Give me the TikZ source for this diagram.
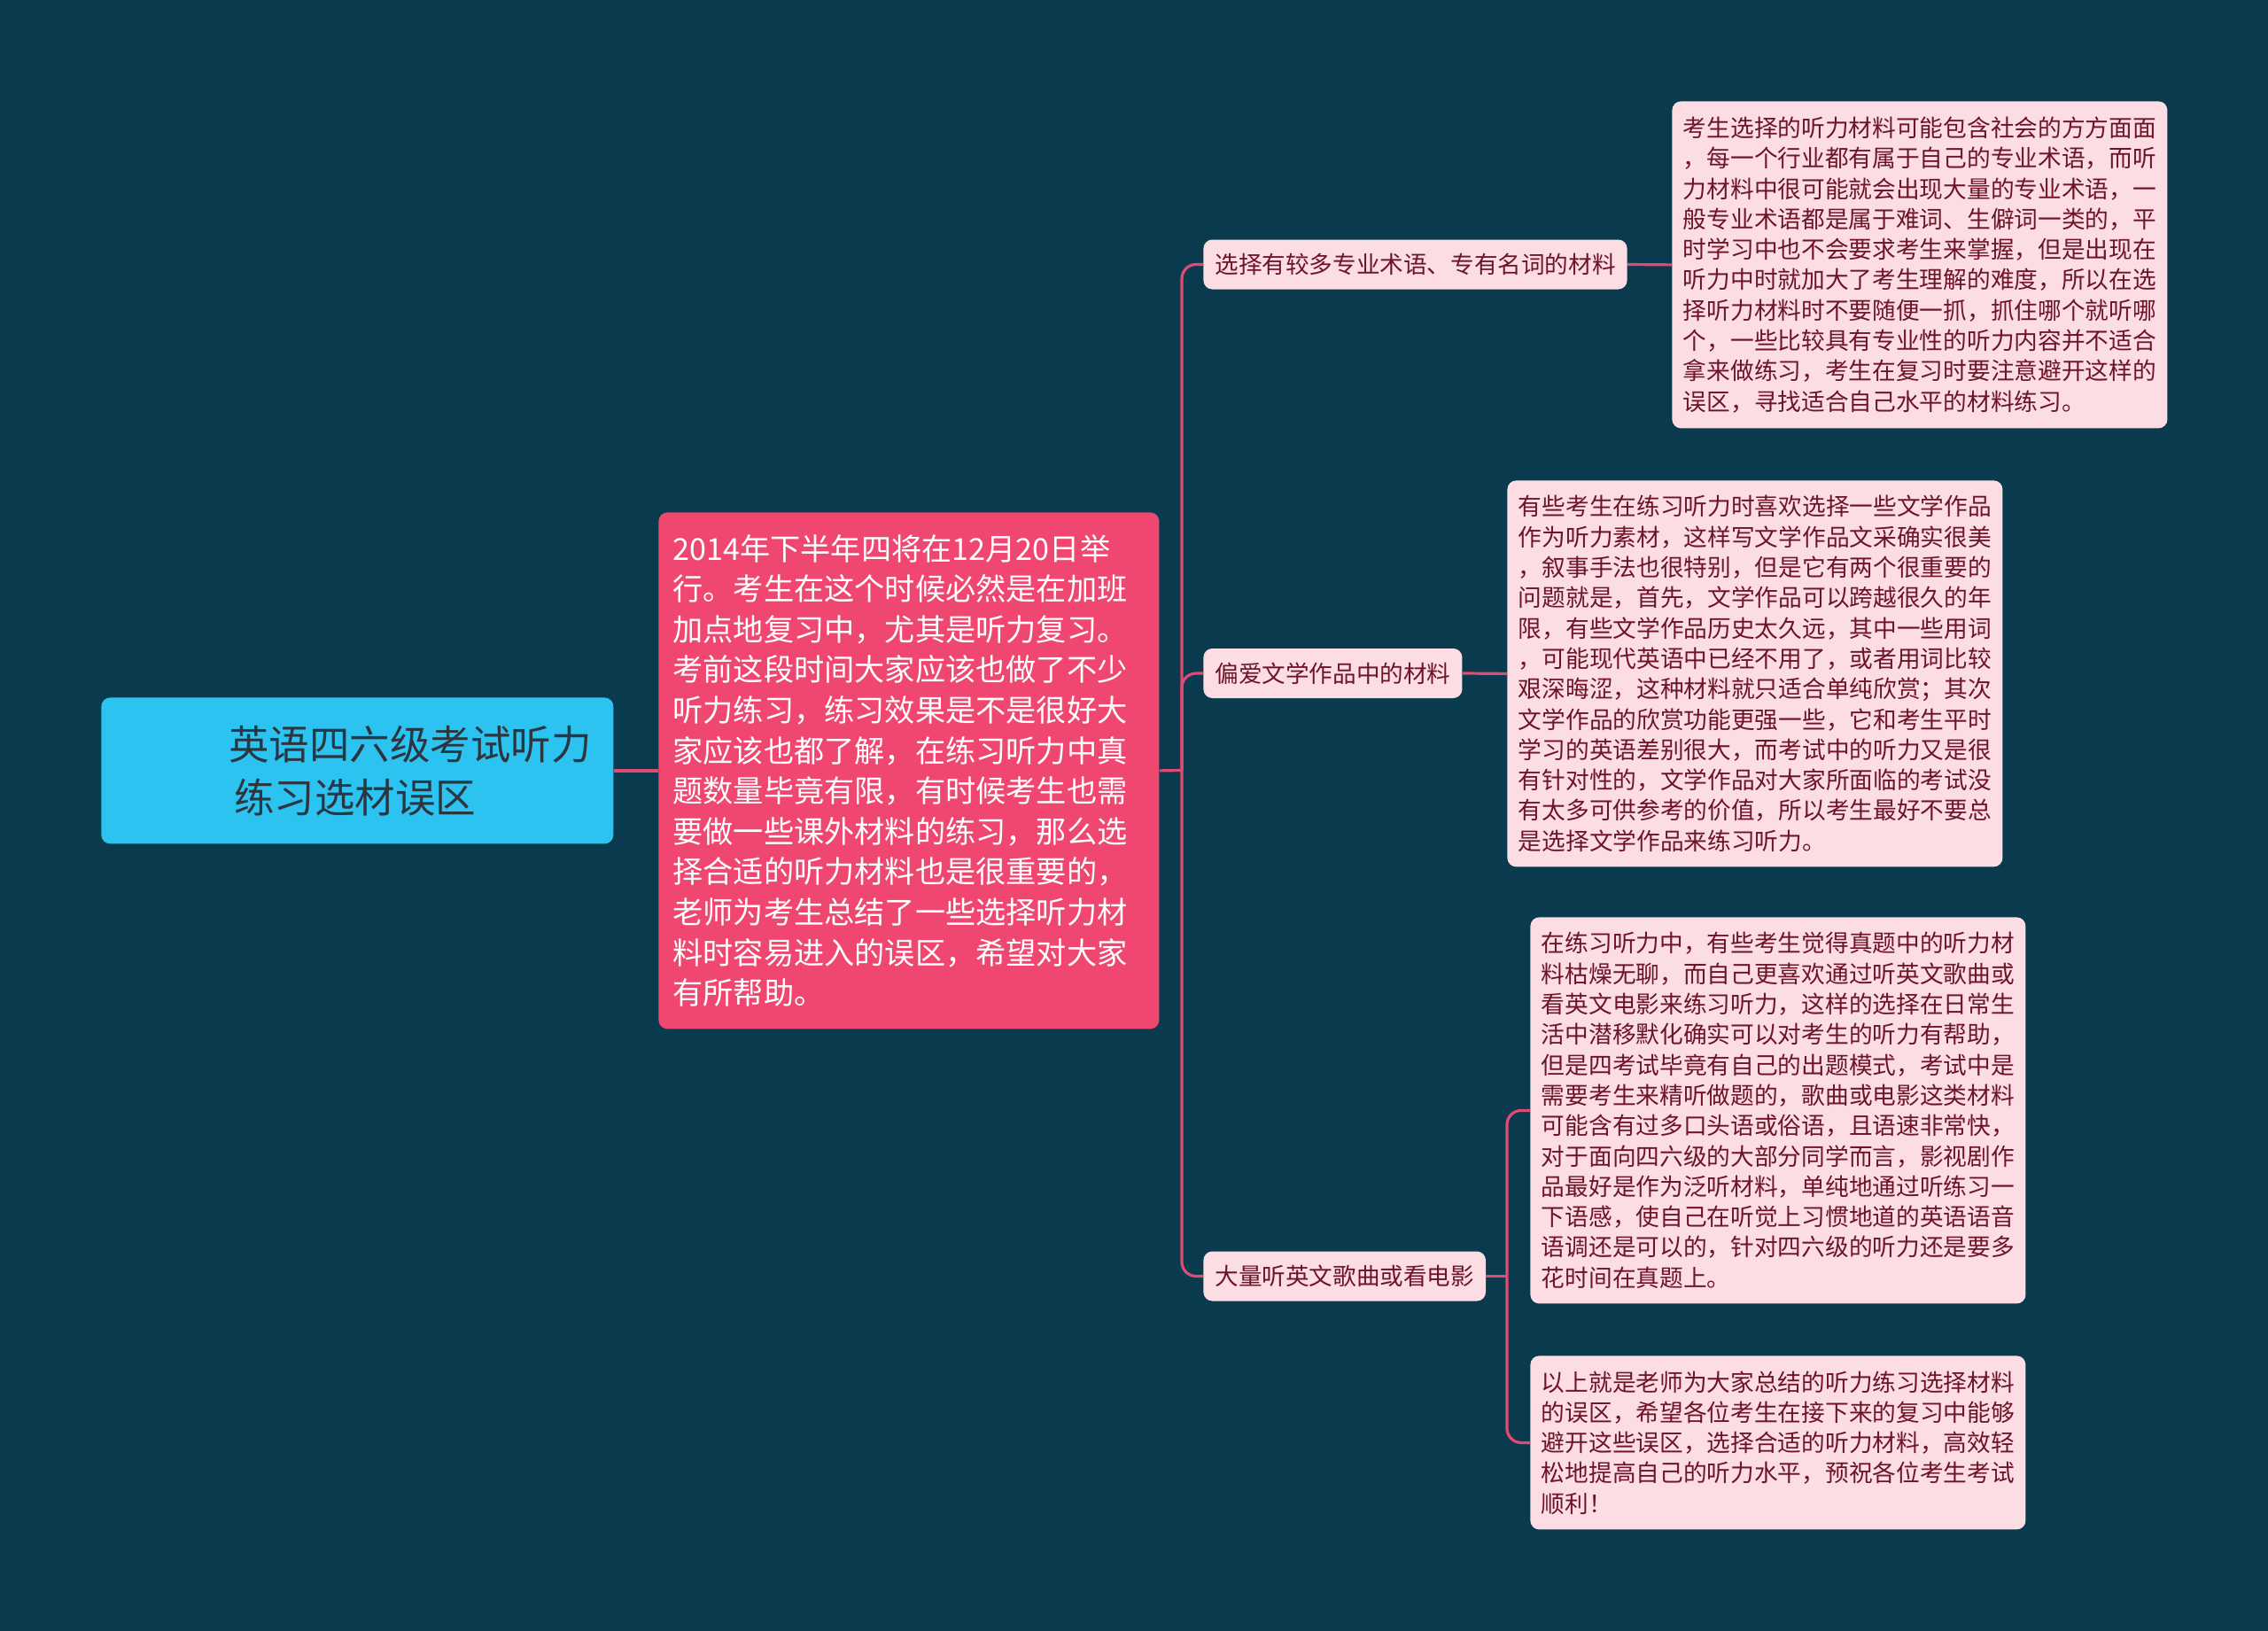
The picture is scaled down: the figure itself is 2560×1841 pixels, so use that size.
\documentclass[tikz,border=0pt]{standalone}
\usepackage{fontspec}
\setmainfont{Noto Sans CJK SC}
\definecolor{bgcol}{HTML}{0A3A4E}
\definecolor{rootfill}{HTML}{2DC3F1}
\definecolor{roottext}{HTML}{2A3640}
\definecolor{mainfill}{HTML}{EF476F}
\definecolor{leaffill}{HTML}{FCDDE3}
\definecolor{leaftext}{HTML}{6E1429}
\definecolor{linecol}{HTML}{E04A73}
\begin{document}
\begin{tikzpicture}[x=0.5pt,y=-0.5pt,
  rootbox/.style={fill=rootfill,rounded corners=5pt,text=roottext,font=\fontsize{22.75pt}{30pt}\selectfont,align=left,inner xsep=0pt,inner ysep=0pt,text width=289pt,minimum height=82.5pt,anchor=north west},
  mainbox/.style={fill=mainfill,rounded corners=5pt,text=white,font=\fontsize{17.1pt}{22.8pt}\selectfont,align=left,inner xsep=8pt,inner ysep=0pt,text width=266.5pt,minimum width=282.5pt,minimum height=291.5pt,anchor=north west},
  branchbox/.style={fill=leaffill,rounded corners=5pt,text=leaftext,font=\fontsize{13.3pt}{16pt}\selectfont,inner xsep=6.5pt,inner ysep=0pt,minimum height=28pt,anchor=west},
  leafbox/.style={fill=leaffill,rounded corners=5pt,text=leaftext,font=\fontsize{13.35pt}{17.15pt}\selectfont,align=left,inner xsep=6pt,inner ysep=0pt,minimum width=279.5pt,anchor=north west},
  conn/.style={draw=linecol,line width=1.6pt,rounded corners=8pt}
]
\fill[bgcol] (0,0) rectangle (2560,1841);
\useasboundingbox (0,0) rectangle (2560,1841);

\node[rootbox] (root) at (114,787) {\hspace*{72pt}英语四六级考试听力\\\hspace*{75pt}练习选材误区};

\node[mainbox] (main) at (743,578) {2014年下半年四将在12月20日举\\
行。考生在这个时候必然是在加班\\
加点地复习中，尤其是听力复习。\\
考前这段时间大家应该也做了不少\\
听力练习，练习效果是不是很好大\\
家应该也都了解，在练习听力中真\\
题数量毕竟有限，有时候考生也需\\
要做一些课外材料的练习，那么选\\
择合适的听力材料也是很重要的，\\
老师为考生总结了一些选择听力材\\
料时容易进入的误区，希望对大家\\
有所帮助。};

\node[branchbox] (b1) at (1358,298.5) {选择有较多专业术语、专有名词的材料};
\node[branchbox] (b2) at (1358,760) {偏爱文学作品中的材料};
\node[branchbox] (b3) at (1358,1440.5) {大量听英文歌曲或看电影};

\node[leafbox,minimum height=184.5pt] (la) at (1887,114) {考生选择的听力材料可能包含社会的方方面面\\
，每一个行业都有属于自己的专业术语，而听\\
力材料中很可能就会出现大量的专业术语，一\\
般专业术语都是属于难词、生僻词一类的，平\\
时学习中也不会要求考生来掌握，但是出现在\\
听力中时就加大了考生理解的难度，所以在选\\
择听力材料时不要随便一抓，抓住哪个就听哪\\
个，一些比较具有专业性的听力内容并不适合\\
拿来做练习，考生在复习时要注意避开这样的\\
误区，寻找适合自己水平的材料练习。};

\node[leafbox,minimum height=218pt] (lb) at (1701,542) {有些考生在练习听力时喜欢选择一些文学作品\\
作为听力素材，这样写文学作品文采确实很美\\
，叙事手法也很特别，但是它有两个很重要的\\
问题就是，首先，文学作品可以跨越很久的年\\
限，有些文学作品历史太久远，其中一些用词\\
，可能现代英语中已经不用了，或者用词比较\\
艰深晦涩，这种材料就只适合单纯欣赏；其次\\
文学作品的欣赏功能更强一些，它和考生平时\\
学习的英语差别很大，而考试中的听力又是很\\
有针对性的，文学作品对大家所面临的考试没\\
有太多可供参考的价值，所以考生最好不要总\\
是选择文学作品来练习听力。};

\node[leafbox,minimum height=218pt] (lc) at (1727,1035) {在练习听力中，有些考生觉得真题中的听力材\\
料枯燥无聊，而自己更喜欢通过听英文歌曲或\\
看英文电影来练习听力，这样的选择在日常生\\
活中潜移默化确实可以对考生的听力有帮助，\\
但是四考试毕竟有自己的出题模式，考试中是\\
需要考生来精听做题的，歌曲或电影这类材料\\
可能含有过多口头语或俗语，且语速非常快，\\
对于面向四六级的大部分同学而言，影视剧作\\
品最好是作为泛听材料，单纯地通过听练习一\\
下语感，使自己在听觉上习惯地道的英语语音\\
语调还是可以的，针对四六级的听力还是要多\\
花时间在真题上。};

\node[leafbox,minimum height=98pt] (ld) at (1727,1530) {以上就是老师为大家总结的听力练习选择材料\\
的误区，希望各位考生在接下来的复习中能够\\
避开这些误区，选择合适的听力材料，高效轻\\
松地提高自己的听力水平，预祝各位考生考试\\
顺利！};

\coordinate (t1) at (1334,869.5);
\coordinate (t2) at (1701,1440.5);

\draw[conn] (root.east) -- (main.west);
\draw[conn] (main.east) -- (t1);
\draw[conn] (t1) |- (b1.west);
\draw[conn] (t1) |- (b2.west);
\draw[conn] (t1) |- (b3.west);
\draw[conn] (b1.east) -- (la.west);
\draw[conn] (b2.east) -- (lb.west);
\draw[conn] (b3.east) -- (t2);
\draw[conn] (t2) |- (lc.west);
\draw[conn] (t2) |- (ld.west);
\end{tikzpicture}
\end{document}
